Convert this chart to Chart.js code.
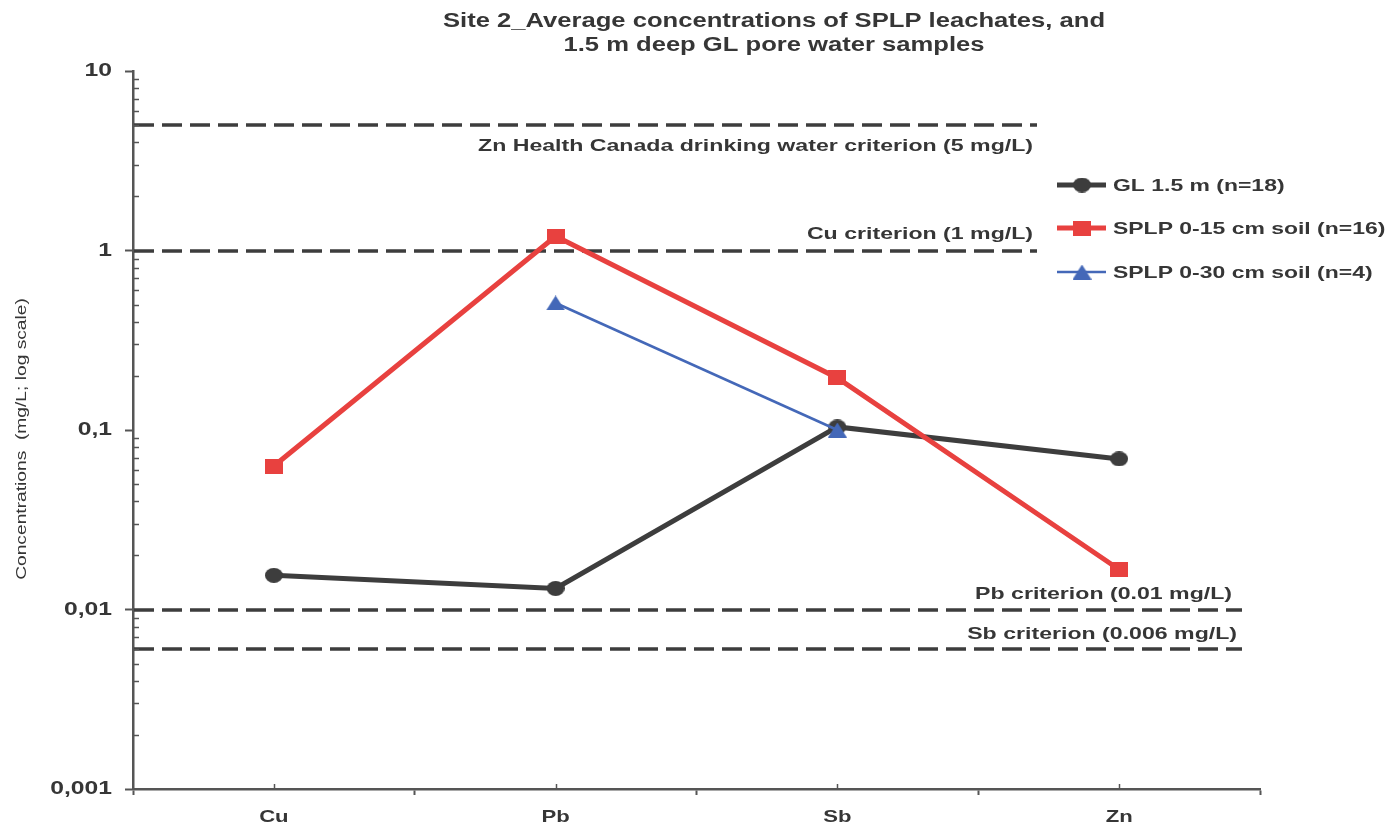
<!DOCTYPE html>
<html>
<head>
<meta charset="utf-8">
<title>Site 2 average concentrations</title>
<script src="https://cdn.jsdelivr.net/npm/chart.js@4/dist/chart.umd.min.js"></script>
<style>
  html, body { margin: 0; padding: 0; background: #ffffff; }
  #wrap { width: 1388px; height: 826px; position: relative; }
</style>
</head>
<body>
<div id="wrap"><canvas id="c" width="1388" height="826"></canvas></div>
<script>
// Elements on the x axis
const elements = ['Cu', 'Pb', 'Sb', 'Zn'];

// Average concentrations (mg/L)
const gl15m = [0.0155, 0.0131, 0.104, 0.069];
const splp015 = [0.063, 1.2, 0.195, 0.0167];
const splp030 = [null, 0.51, 0.1, null];

const seriesNames = ['GL 1.5 m (n=18)', 'SPLP 0-15 cm soil (n=16)', 'SPLP 0-30 cm soil (n=4)'];

// Regulatory criteria (mg/L) with their labels
const criteriaValues = [5, 1, 0.01, 0.006];
const criteriaLabels = [
  'Zn Health Canada drinking water criterion (5 mg/L)',
  'Cu criterion (1 mg/L)',
  'Pb criterion (0.01 mg/L)',
  'Sb criterion (0.006 mg/L)'
];

// Decade tick values and their labels (comma decimal)
const yTickValues = [0.001, 0.01, 0.1, 1, 10];
const yTickLabels = ['0,001', '0,01', '0,1', '1', '10'];

const titleLines = ['Site 2_Average concentrations of SPLP leachates, and', '1.5 m deep GL pore water samples'];
const yTitle = 'Concentrations  (mg/L; log scale)';

const FONT = '"Liberation Sans", Arial, sans-serif';
const AXIS = '#555555';
const TEXT = '#363636';
const DARK = '#3d3d3d';
const RED = '#e8413f';
const BLUE = '#4468b8';

// Wide lettering: text is drawn with a horizontal stretch
const STRETCH = 1.3;

// Layout for each criterion line: how far it reaches and where its label sits
const criteriaStyle = [
  { endX: 1037, textRight: 1033, dy: 21 },
  { endX: 1037, textRight: 1033, dy: -16 },
  { endX: 1242, textRight: 1232, dy: -15 },
  { endX: 1242, textRight: 1237, dy: -15 }
];

// Slightly wide marker shapes (ellipse, box, triangle)
function makeMarker(kind, w, h, color) {
  const c = document.createElement('canvas');
  c.width = w; c.height = h;
  const g = c.getContext('2d');
  g.fillStyle = color;
  g.beginPath();
  if (kind === 'ellipse') {
    g.ellipse(w / 2, h / 2, w / 2, h / 2, 0, 0, Math.PI * 2);
  } else if (kind === 'box') {
    g.rect(0, 0, w, h);
  } else {
    g.moveTo(w / 2, 0);
    g.lineTo(w, h);
    g.lineTo(0, h);
    g.closePath();
  }
  g.fill();
  return c;
}
const markerGL = makeMarker('ellipse', 18, 15, DARK);
const markerRed = makeMarker('box', 18, 15, RED);
const markerBlue = makeMarker('triangle', 19, 15, BLUE);

function wideText(ctx, text, x, y, font, sx, align) {
  ctx.save();
  ctx.font = font;
  ctx.textAlign = align;
  ctx.textBaseline = 'middle';
  ctx.translate(x, y);
  ctx.scale(sx, 1);
  ctx.fillText(text, 0, 0);
  ctx.restore();
}

const decorations = {
  id: 'decorations',
  beforeDatasetsDraw(chart) {
    const { ctx, chartArea, scales } = chart;
    const y = scales.y;
    ctx.save();
    // dashed criteria lines
    ctx.strokeStyle = DARK;
    ctx.lineWidth = 3.5;
    ctx.setLineDash([20, 8]);
    criteriaValues.forEach((v, i) => {
      const py = Math.round(y.getPixelForValue(v));
      ctx.beginPath();
      ctx.moveTo(chartArea.left + 1, py);
      ctx.lineTo(criteriaStyle[i].endX, py);
      ctx.stroke();
    });
    ctx.setLineDash([]);
    ctx.restore();
  },
  afterDraw(chart) {
    const { ctx, chartArea, scales } = chart;
    const y = scales.y, x = scales.x;
    ctx.save();

    // minor ticks inside the y axis
    ctx.strokeStyle = AXIS;
    ctx.lineWidth = 1.5;
    for (let d = 0; d < yTickValues.length - 1; d++) {
      for (let m = 2; m <= 9; m++) {
        const py = Math.round(y.getPixelForValue(yTickValues[d] * m)) + 0.5;
        ctx.beginPath();
        ctx.moveTo(chartArea.left, py);
        ctx.lineTo(chartArea.left + 6, py);
        ctx.stroke();
      }
    }
    // small inside ticks at category centres
    elements.forEach((e, i) => {
      const px = Math.round(x.getPixelForValue(i)) + 0.5;
      ctx.beginPath();
      ctx.moveTo(px, chartArea.bottom);
      ctx.lineTo(px, chartArea.bottom - 5);
      ctx.stroke();
    });

    ctx.fillStyle = TEXT;

    // tick labels
    yTickValues.forEach((v, i) => {
      wideText(ctx, yTickLabels[i], 112, y.getPixelForValue(v), 'bold 19px ' + FONT, STRETCH, 'right');
    });
    elements.forEach((e, i) => {
      wideText(ctx, e, x.getPixelForValue(i), 817, 'bold 17px ' + FONT, STRETCH, 'center');
    });

    // title
    wideText(ctx, titleLines[0], 774, 21, 'bold 20px ' + FONT, 1.28, 'center');
    wideText(ctx, titleLines[1], 774, 45, 'bold 20px ' + FONT, 1.28, 'center');

    // y axis title
    ctx.save();
    ctx.translate(22, 439);
    ctx.rotate(-Math.PI / 2);
    ctx.scale(1.28, 1);
    ctx.font = '15px ' + FONT;
    ctx.textAlign = 'center';
    ctx.textBaseline = 'middle';
    ctx.fillText(yTitle, 0, 0);
    ctx.restore();

    // criteria labels
    criteriaValues.forEach((v, i) => {
      const py = y.getPixelForValue(v);
      wideText(ctx, criteriaLabels[i], criteriaStyle[i].textRight, py + criteriaStyle[i].dy,
        'bold 17px ' + FONT, 1.36, 'right');
    });

    // legend
    const rows = [185, 228, 272];
    chart.data.datasets.forEach((ds, i) => {
      const ly = rows[i];
      ctx.strokeStyle = ds.borderColor;
      ctx.lineWidth = ds.borderWidth;
      ctx.beginPath();
      ctx.moveTo(1057, ly);
      ctx.lineTo(1106, ly);
      ctx.stroke();
      Chart.helpers.drawPoint(ctx, { pointStyle: ds.pointStyle, rotation: 0, radius: 8, borderWidth: 0 }, 1082, ly);
      ctx.fillStyle = TEXT;
      wideText(ctx, ds.label, 1113, ly + 1, 'bold 17px ' + FONT, 1.35, 'left');
    });
    ctx.restore();
  }
};

new Chart(document.getElementById('c'), {
  type: 'line',
  data: {
    labels: elements,
    datasets: [
      {
        label: seriesNames[0], data: gl15m, order: 3,
        borderColor: DARK, backgroundColor: DARK,
        borderWidth: 5, pointStyle: markerGL, pointRadius: 8
      },
      {
        label: seriesNames[1], data: splp015, order: 2,
        borderColor: RED, backgroundColor: RED,
        borderWidth: 5, pointStyle: markerRed, pointRadius: 8
      },
      {
        label: seriesNames[2], data: splp030, order: 1,
        borderColor: BLUE, backgroundColor: BLUE,
        borderWidth: 2.5, pointStyle: markerBlue, pointRadius: 8
      }
    ]
  },
  options: {
    responsive: false,
    animation: false,
    devicePixelRatio: 1,
    layout: { padding: { top: 71, right: 128, bottom: 0, left: 0 } },
    elements: { line: { tension: 0 } },
    plugins: { legend: { display: false }, title: { display: false }, tooltip: { enabled: false } },
    scales: {
      x: {
        type: 'category',
        offset: true,
        afterFit(s) { s.height = 37; },
        grid: { display: true, offset: true, drawOnChartArea: false, tickLength: 6, tickWidth: 2, tickColor: AXIS },
        border: { color: AXIS, width: 2.5 },
        ticks: { display: false }
      },
      y: {
        type: 'logarithmic',
        min: 0.001,
        max: 10,
        afterFit(s) { s.width = 133; },
        afterBuildTicks(s) { s.ticks = yTickValues.map(v => ({ value: v, major: true })); },
        grid: { display: true, drawOnChartArea: false, tickLength: 8, tickWidth: 2, tickColor: AXIS },
        border: { color: AXIS, width: 2.5 },
        ticks: { display: false }
      }
    }
  },
  plugins: [decorations]
});
</script>
</body>
</html>
